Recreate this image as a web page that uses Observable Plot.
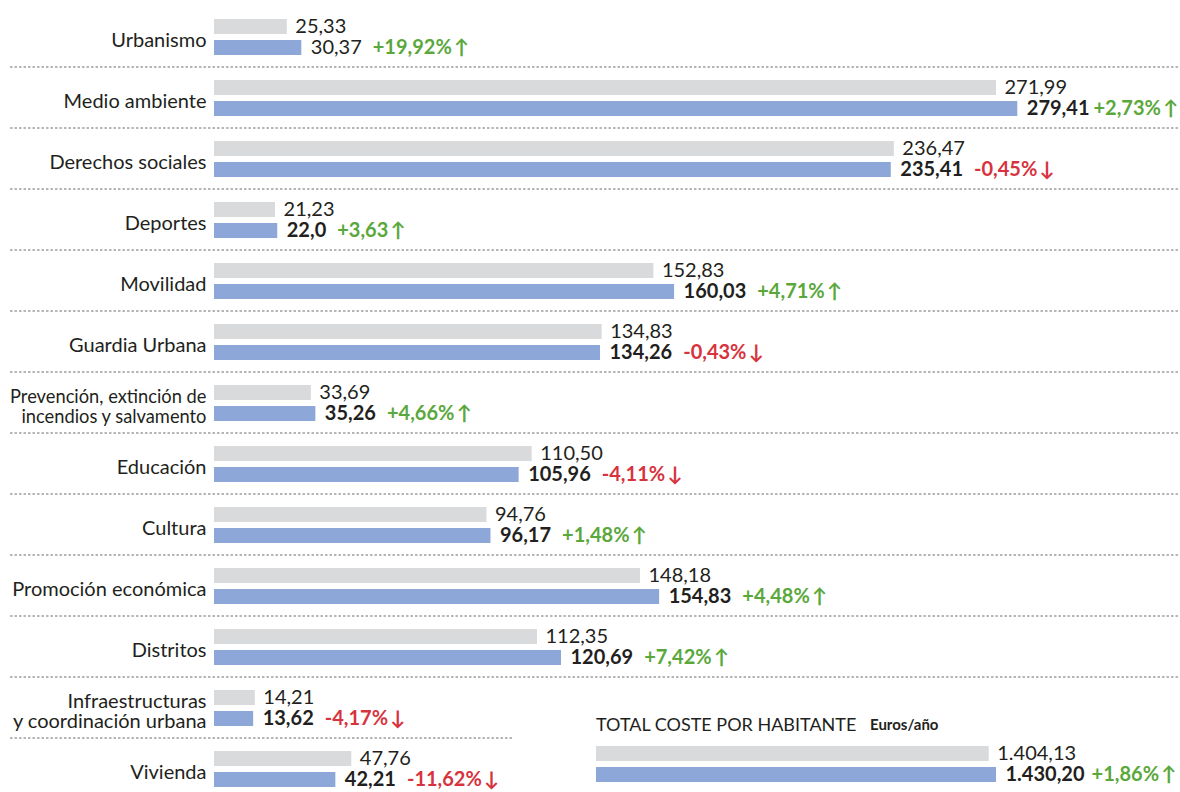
<!DOCTYPE html>
<html><head><meta charset="utf-8">
<script src="https://cdn.jsdelivr.net/npm/d3@7"></script>
<script src="https://cdn.jsdelivr.net/npm/@observablehq/plot@0.6"></script>
<style>
body{margin:0;background:#fff;}
#wrap{position:relative;width:1180px;height:792px;font-family:Lato,"Open Sans",sans-serif;color:#231f20;overflow:hidden;}
#ttitle{position:absolute;left:596px;top:712px;font-size:18px;line-height:24px;white-space:nowrap;}
#ttitle .t2{position:absolute;left:274px;top:0;font-weight:bold;font-size:15px;}
#tchart{position:absolute;left:596px;top:745px;}
</style></head><body>
<div id="wrap"><div id="main"></div>
<div id="ttitle"><span class="t1">TOTAL COSTE POR HABITANTE</span><span class="t2">Euros/año</span></div>
<div id="tchart"></div></div>
<script>
const categories = ["Urbanismo","Medio ambiente","Derechos sociales","Deportes","Movilidad","Guardia Urbana","Prevención, extinción de\nincendios y salvamento","Educación","Cultura","Promoción económica","Distritos","Infraestructuras\ny coordinación urbana","Vivienda"];
const previous = [25.33,271.99,236.47,21.23,152.83,134.83,33.69,110.50,94.76,148.18,112.35,14.21,47.76];
const current = [30.37,279.41,235.41,22.0,160.03,134.26,35.26,105.96,96.17,154.83,120.69,13.62,42.21];
const previousLabels = ["25,33","271,99","236,47","21,23","152,83","134,83","33,69","110,50","94,76","148,18","112,35","14,21","47,76"];
const currentLabels = ["30,37","279,41","235,41","22,0","160,03","134,26","35,26","105,96","96,17","154,83","120,69","13,62","42,21"];
const changeLabels = ["+19,92%","+2,73%","-0,45%","+3,63","+4,71%","-0,43%","+4,66%","-4,11%","+1,48%","+4,48%","+7,42%","-4,17%","-11,62%"];
const totalSeries = ["prev","cur"];
const totalValues = [1404.13, 1430.20];
const totalLabels = ["1.404,13","1.430,20"];
const totalChange = "+1,86%";

const GREY = "#d9dadc", BLUE = "#8ca7d8", GREEN = "#5aa83b", RED = "#d7333e", INK = "#231f20";
const FONT = "Lato, 'Open Sans', sans-serif";
const FS = 20;
const W = 1180, ML = 214;
const xDomain = [0, 336];

const ctx = document.createElement("canvas").getContext("2d");
function textWidth(s, bold) {
  ctx.font = `${bold ? "bold " : ""}${FS}px Lato, 'Open Sans', sans-serif`;
  return ctx.measureText(s).width;
}
const xs = Plot.scale({x: {domain: xDomain, range: [ML, W]}});

const rows = categories.map((c, i) => ({category: c, prev: previous[i], cur: current[i], curLabel: currentLabels[i], bold: c !== "Urbanismo", change: changeLabels[i], up: !changeLabels[i].startsWith("-")}));
const bars = categories.flatMap((c, i) => [
  {category: c, series: "prev", value: previous[i], label: previousLabels[i]},
  {category: c, series: "cur", value: current[i], label: currentLabels[i]}
]);
const arrow = (d) => d.change + "\u2009" + (d.up ? "\u2191" : "\u2193");

const changeMarks = rows.map(r => {
  const base = 9 + textWidth(r.curLabel, r.bold);
  const room = W - 3 - (xs.apply(r.cur) + base + textWidth(arrow(r), true));
  const gap = Math.max(4, Math.min(11, room));
  return Plot.text([r], {
    fy: "category", y: () => "cur", x: "cur", text: arrow, textAnchor: "start",
    dx: base + gap, fill: r.up ? GREEN : RED, fontSize: FS, fontWeight: "bold"
  });
});

const longLabel = (d) => d.startsWith("Prevención");
const main = Plot.plot({
  width: W, height: 792, marginLeft: ML, marginRight: 0, marginTop: 18, marginBottom: 3,
  x: {domain: xDomain, axis: null},
  y: {domain: ["prev", "cur"], axis: null, paddingInner: 0.27, paddingOuter: 0},
  fy: {domain: categories, axis: null, paddingInner: 0.377, paddingOuter: 0},
  color: {domain: ["prev", "cur"], range: [GREY, BLUE]},
  style: {fontFamily: FONT, fontSize: FS + "px", color: INK, background: "#fff", overflow: "visible"},
  marks: [
    Plot.ruleY(categories.slice(0, 11), {fy: d => d, y: () => "cur", dy: 19, insetLeft: -204, stroke: "#6d6e71", strokeWidth: 1, strokeDasharray: "2.5,2"}),
    Plot.ruleY(categories.slice(11, 12), {fy: d => d, y: () => "cur", dy: 19, insetLeft: -204, insetRight: 668, stroke: "#6d6e71", strokeWidth: 1, strokeDasharray: "2.5,2"}),
    Plot.barX(bars, {fy: "category", y: "series", x: "value", fill: "series"}),
    Plot.text(categories.filter(d => !longLabel(d)), {fy: d => d, text: d => d, frameAnchor: "left", textAnchor: "end", dx: -8, dy: 3, fill: INK, fontSize: FS, lineHeight: 0.98}),
    Plot.text(categories.filter(longLabel), {fy: d => d, text: d => d, frameAnchor: "left", textAnchor: "end", dx: -8, dy: 3, fill: INK, fontSize: 18.3, lineHeight: 1.07}),
    Plot.text(bars.filter(d => d.series === "prev"), {fy: "category", y: "series", x: "value", text: "label", textAnchor: "start", dx: 8, fill: INK, fontSize: FS}),
    Plot.text(bars.filter(d => d.series === "cur" && d.category === "Urbanismo"), {fy: "category", y: "series", x: "value", text: "label", textAnchor: "start", dx: 9, fill: INK, fontSize: FS}),
    Plot.text(bars.filter(d => d.series === "cur" && d.category !== "Urbanismo"), {fy: "category", y: "series", x: "value", text: "label", textAnchor: "start", dx: 9, fill: INK, fontSize: FS, fontWeight: "bold"}),
    ...changeMarks
  ]
});
document.getElementById("main").appendChild(main);

const totalRows = totalSeries.map((s, i) => ({series: s, value: totalValues[i], label: totalLabels[i]}));
const total = Plot.plot({
  width: 584, height: 46, marginLeft: 0, marginRight: 0, marginTop: 0, marginBottom: 8,
  x: {domain: [0, 2088], axis: null},
  y: {domain: ["prev", "cur"], axis: null, paddingInner: 0.27, paddingOuter: 0},
  color: {domain: ["prev", "cur"], range: [GREY, BLUE]},
  style: {fontFamily: FONT, fontSize: FS + "px", color: INK, background: "transparent", overflow: "visible"},
  marks: [
    Plot.barX(totalRows, {y: "series", x: "value", fill: "series"}),
    Plot.text(totalRows.filter(d => d.series === "prev"), {y: "series", x: "value", text: "label", textAnchor: "start", dx: 8, fill: INK, fontSize: FS}),
    Plot.text(totalRows.filter(d => d.series === "cur"), {y: "series", x: "value", text: "label", textAnchor: "start", dx: 9, fill: INK, fontSize: FS, fontWeight: "bold"}),
    Plot.text(totalRows.filter(d => d.series === "cur"), {y: "series", x: "value", text: () => arrow({change: totalChange, up: true}), textAnchor: "start", dx: 9 + textWidth(totalLabels[1], true) + 7, fill: GREEN, fontSize: FS, fontWeight: "bold"})
  ]
});
document.getElementById("tchart").appendChild(total);
</script>
</body></html>
